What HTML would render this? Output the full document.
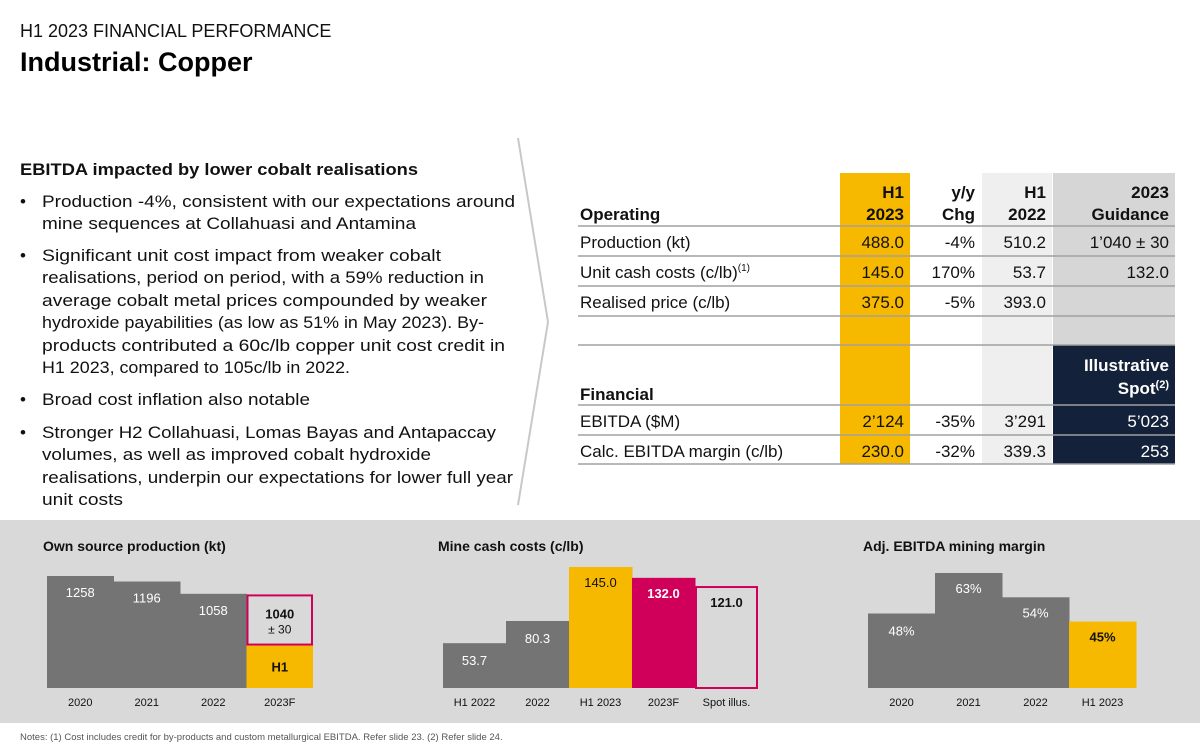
<!DOCTYPE html>
<html><head><meta charset="utf-8"><style>
html,body{margin:0;padding:0;background:#fff;}
svg{display:block;font-family:"Liberation Sans",Arial,sans-serif;}
</style></head><body>
<svg id="s" width="1200" height="749" viewBox="0 0 1200 749" xmlns="http://www.w3.org/2000/svg">
<text x="20" y="37" font-size="18" fill="#111">H1 2023 FINANCIAL PERFORMANCE</text>
<text x="20" y="71" font-size="27" font-weight="bold" fill="#000">Industrial: Copper</text>

<g font-size="17" fill="#111" lengthAdjust="spacingAndGlyphs">
<text x="20" y="175" font-weight="bold" textLength="398" lengthAdjust="spacingAndGlyphs">EBITDA impacted by lower cobalt realisations</text>
<text x="20" y="207">•</text><text x="42" y="207" textLength="473" lengthAdjust="spacingAndGlyphs">Production -4%, consistent with our expectations around</text>
<text x="42" y="229" textLength="374" lengthAdjust="spacingAndGlyphs">mine sequences at Collahuasi and Antamina</text>
<text x="20" y="261">•</text><text x="42" y="261" textLength="399" lengthAdjust="spacingAndGlyphs">Significant unit cost impact from weaker cobalt</text>
<text x="42" y="283" textLength="442" lengthAdjust="spacingAndGlyphs">realisations, period on period, with a 59% reduction in</text>
<text x="42" y="306" textLength="445" lengthAdjust="spacingAndGlyphs">average cobalt metal prices compounded by weaker</text>
<text x="42" y="328" textLength="442" lengthAdjust="spacingAndGlyphs">hydroxide payabilities (as low as 51% in May 2023). By-</text>
<text x="42" y="351" textLength="463" lengthAdjust="spacingAndGlyphs">products contributed a 60c/lb copper unit cost credit in</text>
<text x="42" y="373" textLength="308" lengthAdjust="spacingAndGlyphs">H1 2023, compared to 105c/lb in 2022.</text>
<text x="20" y="405">•</text><text x="42" y="405" textLength="268" lengthAdjust="spacingAndGlyphs">Broad cost inflation also notable</text>
<text x="20" y="438">•</text><text x="42" y="438" textLength="454" lengthAdjust="spacingAndGlyphs">Stronger H2 Collahuasi, Lomas Bayas and Antapaccay</text>
<text x="42" y="460" textLength="389" lengthAdjust="spacingAndGlyphs">volumes, as well as improved cobalt hydroxide</text>
<text x="42" y="483" textLength="471" lengthAdjust="spacingAndGlyphs">realisations, underpin our expectations for lower full year</text>
<text x="42" y="505" textLength="81" lengthAdjust="spacingAndGlyphs">unit costs</text>
</g>
<polyline points="518,138 548,322 518,505" fill="none" stroke="#c8c8c8" stroke-width="2"/>

<g>
<rect x="840" y="173" width="70" height="291" fill="#f7b800"/>
<rect x="982" y="173" width="70" height="291" fill="#efefef"/>
<rect x="1053" y="173" width="122" height="172" fill="#d6d6d6"/>
<rect x="1053" y="345" width="122" height="119" fill="#14213a"/>
<g stroke="#a0a0a0" stroke-width="1.5">
<line x1="578" y1="226" x2="1175" y2="226"/><line x1="578" y1="256" x2="1175" y2="256"/>
<line x1="578" y1="286" x2="1175" y2="286"/><line x1="578" y1="316" x2="1175" y2="316"/>
<line x1="578" y1="345" x2="1175" y2="345"/><line x1="578" y1="405" x2="1175" y2="405"/>
<line x1="578" y1="435" x2="1175" y2="435"/><line x1="578" y1="464" x2="1175" y2="464"/>
</g>
<g font-size="17" font-weight="bold" fill="#111" text-anchor="end">
<text x="904" y="198">H1</text><text x="904" y="220">2023</text>
<text x="975" y="198">y/y</text><text x="975" y="220">Chg</text>
<text x="1046" y="198">H1</text><text x="1046" y="220">2022</text>
<text x="1169" y="198">2023</text><text x="1169" y="220">Guidance</text>
<text x="1169" y="371" fill="#fff">Illustrative</text><text x="1169" y="394" fill="#fff">Spot<tspan font-size="11" dy="-6">(2)</tspan></text>
</g>
<text x="580" y="220" font-size="17" font-weight="bold" fill="#111">Operating</text>
<text x="580" y="400" font-size="17" font-weight="bold" fill="#111">Financial</text>
<g font-size="17" fill="#111">
<text x="580" y="248">Production (kt)</text>
<text x="580" y="278">Unit cash costs (c/lb)<tspan font-size="10" dy="-7">(1)</tspan></text>
<text x="580" y="308">Realised price (c/lb)</text>
<text x="580" y="427">EBITDA ($M)</text>
<text x="580" y="457">Calc. EBITDA margin (c/lb)</text>
</g>
<g font-size="17" fill="#111" text-anchor="end">
<text x="904" y="248">488.0</text><text x="975" y="248">-4%</text><text x="1046" y="248">510.2</text><text x="1169" y="248">1’040 ± 30</text>
<text x="904" y="278">145.0</text><text x="975" y="278">170%</text><text x="1046" y="278">53.7</text><text x="1169" y="278">132.0</text>
<text x="904" y="308">375.0</text><text x="975" y="308">-5%</text><text x="1046" y="308">393.0</text>
<text x="904" y="427">2’124</text><text x="975" y="427">-35%</text><text x="1046" y="427">3’291</text><text x="1169" y="427" fill="#fff">5’023</text>
<text x="904" y="457">230.0</text><text x="975" y="457">-32%</text><text x="1046" y="457">339.3</text><text x="1169" y="457" fill="#fff">253</text>
</g>
</g>

<rect x="0" y="520" width="1200" height="203" fill="#d9d9d9"/>
<text x="43" y="551" font-size="14" font-weight="bold" fill="#111">Own source production (kt)</text>
<text x="438" y="551" font-size="14" font-weight="bold" fill="#111">Mine cash costs (c/lb)</text>
<text x="863" y="551" font-size="14" font-weight="bold" fill="#111">Adj. EBITDA mining margin</text>
<g id="charts"></g>
<text x="20" y="740" font-size="9.5" fill="#555">Notes: (1) Cost includes credit for by-products and custom metallurgical EBITDA. Refer slide 23. (2) Refer slide 24.</text>
</svg>
<script>
const prodCats = ["2020","2021","2022","2023F"];
const prodVals = [1258,1196,1058,1040];
const prodH1 = [488];
const prodLabels = ["1258","1196","1058","1040"];
const costCats = ["H1 2022","2022","H1 2023","2023F","Spot illus."];
const costVals = [53.7,80.3,145.0,132.0,121.0];
const costLabels = ["53.7","80.3","145.0","132.0","121.0"];
const marginCats = ["2020","2021","2022","H1 2023"];
const marginVals = [48,63,54,45];
const marginLabels = ["48%","63%","54%","45%"];

const NS="http://www.w3.org/2000/svg";
const root=document.getElementById('charts');
function mk(tag,attrs,parent){const e=document.createElementNS(NS,tag);for(const k in attrs)e.setAttribute(k,attrs[k]);(parent||root).appendChild(e);return e;}
const base=688;
function yScale(min,max,topPx){return v=>base-(v-min)/(max-min)*(base-topPx);}

{
const y=yScale(0,1258,576), x0=47, w=66.5;
prodVals.forEach((v,i)=>{
  const x=x0+i*w, top=y(v);
  let r;
  if(i<3){
    r=mk('rect',{x:x,y:top,width:w+0.5,height:base-top,fill:'#747474'});
    
    
    const t=mk('text',{x:x+w/2,y:top+21,'text-anchor':'middle','font-size':13,fill:'#fff'});t.textContent=prodLabels[i];
  } else {
    const h1top=y(prodH1[0]);
    const hb=mk('rect',{x:x,y:h1top,width:w,height:base-h1top,fill:'#f7b800'});
    
    
    r=mk('rect',{x:x+1,y:top,width:w-2,height:h1top-top,fill:'#d9d9d9',stroke:'#d0005a','stroke-width':2});
    
    
    const t=mk('text',{x:x+w/2,y:top+23,'text-anchor':'middle','font-size':13,'font-weight':'bold',fill:'#111'});t.textContent=prodLabels[i];
    const t2=mk('text',{x:x+w/2,y:top+38,'text-anchor':'middle','font-size':12,fill:'#111'});t2.textContent="± 30";
    const t3=mk('text',{x:x+w/2,y:(h1top+base)/2+5,'text-anchor':'middle','font-size':13,'font-weight':'bold',fill:'#111'});t3.textContent="H1";
  }
  const c=mk('text',{x:x+w/2,y:706,'text-anchor':'middle','font-size':11,fill:'#111'});c.textContent=prodCats[i];
});
}
{
const y=yScale(0,145,567), x0=443, w=63;
const fills=['#747474','#747474','#f7b800','#d0005a','#d9d9d9'];
const tcol=['#fff','#fff','#111','#fff','#111'];
costVals.forEach((v,i)=>{
  const x=x0+i*w, top=y(v);
  const r=mk('rect',{x:x+(i==4?1:0),y:top,width:w-(i==4?2:0)+(i<4?0.5:0),height:base-top,fill:fills[i]});
  if(i==4){r.setAttribute('stroke','#d0005a');r.setAttribute('stroke-width','2');}
  
  
  const t=mk('text',{x:x+w/2,y:top+(i<2?22:20),'text-anchor':'middle','font-size':13,'font-weight':(i>=3?'bold':'normal'),fill:tcol[i]});t.textContent=costLabels[i];
  const c=mk('text',{x:x+w/2,y:706,'text-anchor':'middle','font-size':11,fill:'#111'});c.textContent=costCats[i];
});
}
{
const y=yScale(20.4,63,573), x0=868, w=67;
marginVals.forEach((v,i)=>{
  const x=x0+i*w, top=y(v);
  const last=i==marginVals.length-1;
  const r=mk('rect',{x:x,y:top,width:w+0.5,height:base-top,fill:last?'#f7b800':'#747474'});
  
  
  const t=mk('text',{x:x+w/2,y:top+20+(i==0?2:0),'text-anchor':'middle','font-size':13,'font-weight':last?'bold':'normal',fill:last?'#111':'#fff'});t.textContent=marginLabels[i];
  const c=mk('text',{x:x+w/2,y:706,'text-anchor':'middle','font-size':11,fill:'#111'});c.textContent=marginCats[i];
});
}
</script>
</body></html>
